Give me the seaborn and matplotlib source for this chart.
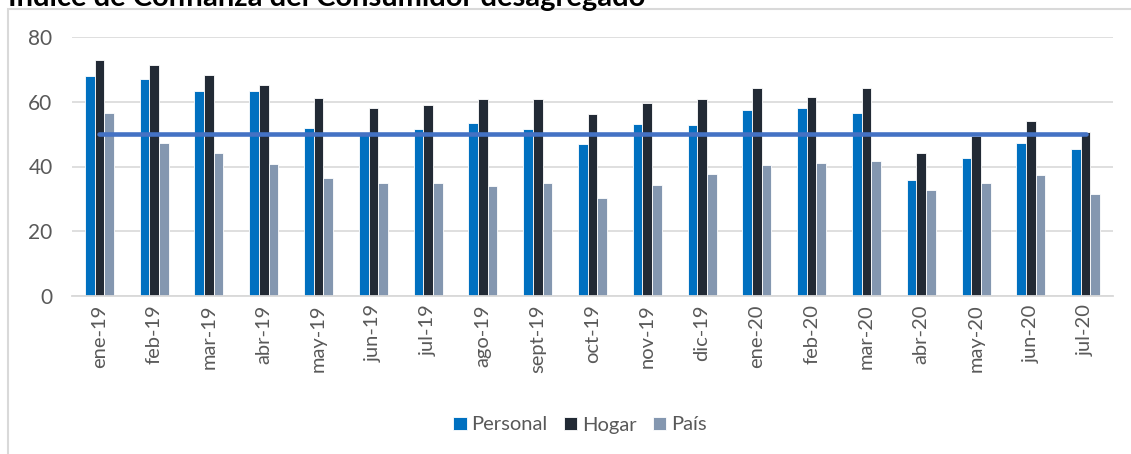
import numpy as np
import pandas as pd
import matplotlib
matplotlib.use("Agg")
import matplotlib.pyplot as plt
from matplotlib.patches import Rectangle
from matplotlib.ticker import FixedLocator
import seaborn as sns

# ---- data ----
meses = ["ene-19", "feb-19", "mar-19", "abr-19", "may-19", "jun-19", "jul-19",
         "ago-19", "sept-19", "oct-19", "nov-19", "dic-19", "ene-20", "feb-20",
         "mar-20", "abr-20", "may-20", "jun-20", "jul-20"]
personal = [67.8, 67.0, 63.2, 63.4, 51.8, 49.8, 51.6, 53.5, 51.6, 46.9, 53.1,
            52.9, 57.5, 58.1, 56.6, 35.8, 42.6, 47.3, 45.3]
hogar = [73.0, 71.3, 68.3, 65.2, 61.3, 58.1, 58.9, 60.9, 60.8, 56.2, 59.7,
         60.8, 64.2, 61.5, 64.2, 44.2, 49.5, 54.1, 50.6]
pais = [56.4, 47.2, 44.1, 40.8, 36.3, 34.8, 34.8, 34.0, 34.8, 30.2, 34.2,
        37.7, 40.5, 41.0, 41.6, 32.8, 34.8, 37.4, 31.5]
umbral = [50, 50, 50, 50, 50, 50, 50, 50, 50, 50, 50, 50, 50, 50, 50, 50, 50, 50, 50]
series = ["Personal", "Hogar", "País"]
titulo = "Índice de Confianza del Consumidor desagregado"

df = pd.DataFrame({"mes": meses * 3,
                   "serie": [series[0]] * len(meses) + [series[1]] * len(meses) + [series[2]] * len(meses),
                   "valor": personal + hogar + pais})

colores = {"Personal": "#0070C0", "Hogar": "#222A35", "País": "#8497B0"}
gris_txt = "#595959"
gris_lin = "#D9D9D9"

sns.set_theme(style="white")
plt.rcParams["font.family"] = ["Lato", "DejaVu Sans"]

fig = plt.figure(figsize=(11.31, 4.54), dpi=100)
ax = fig.add_axes([72 / 1131, 158 / 454, (1113 - 72) / 1131, (417 - 158) / 454])

sns.barplot(data=df, x="mes", y="valor", hue="serie", order=meses,
            hue_order=series, palette=colores, saturation=1, width=0.53, gap=0,
            edgecolor="white", linewidth=0.6, ax=ax, zorder=2)

x_pos = np.arange(len(meses))
sns.lineplot(x=x_pos, y=umbral, color="#4472C4", linewidth=3.3, ax=ax,
             legend=False, zorder=4, solid_capstyle="round")

ax.set_xlim(-0.5, len(meses) - 0.5)
ax.set_ylim(0, 80)
ax.set_yticks([0, 20, 40, 60, 80])
ax.yaxis.grid(True, color=gris_lin, linewidth=1.2, zorder=0)
ax.set_axisbelow(True)
for s in ["top", "right", "left"]:
    ax.spines[s].set_visible(False)
ax.spines["bottom"].set_color(gris_lin)
ax.spines["bottom"].set_linewidth(1.3)

ax.set_xlabel("")
ax.set_ylabel("")
ax.tick_params(axis="y", length=0, labelsize=15, labelcolor=gris_txt, pad=14)
ax.tick_params(axis="x", which="major", length=0, labelsize=14.5,
               labelcolor=gris_txt, labelrotation=90, pad=6)
ax.xaxis.set_minor_locator(FixedLocator(np.arange(-0.5, len(meses), 1.0)))
ax.tick_params(axis="x", which="minor", length=7, width=1.3, color=gris_lin,
               direction="out")

leg = ax.get_legend()
handles = leg.legend_handles
labels = [t.get_text() for t in leg.get_texts()]
leg.remove()
fig.legend(handles, labels, loc="center", ncol=3, frameon=False,
           bbox_to_anchor=(580 / 1131, 1 - 425 / 454),
           bbox_transform=fig.transFigure, fontsize=14.5,
           labelcolor=gris_txt, handlelength=0.65, handleheight=0.65,
           handletextpad=0.25, columnspacing=0.8)

fig.patches.append(Rectangle((8 / 1131, -0.1), 1.2, 1.0 - 9 / 454 + 0.1,
                             transform=fig.transFigure, fill=False,
                             edgecolor=gris_lin, linewidth=1.5))
fig.text(8 / 1131, 1 - 6 / 454, titulo, ha="left", va="baseline",
         fontsize=21, fontweight="bold", color="black")

fig.savefig("out.png", dpi=100)
